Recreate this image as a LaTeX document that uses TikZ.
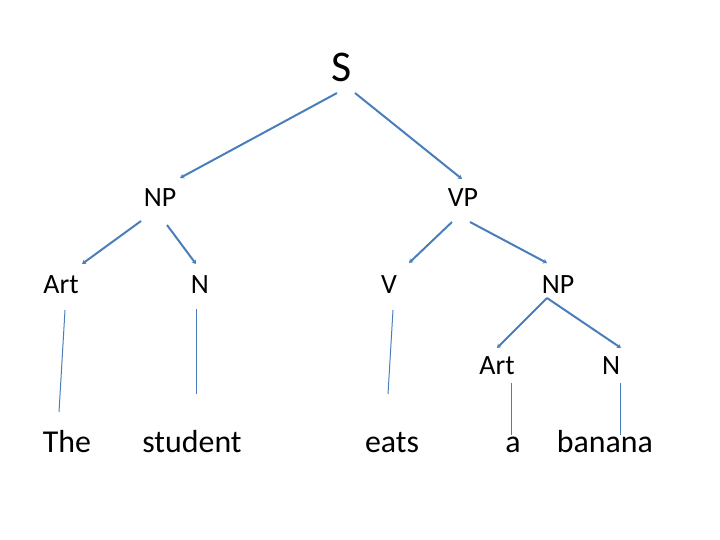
\documentclass[tikz,border=0pt]{standalone}
\usepackage{fontspec}
\setmainfont{Carlito}
\usetikzlibrary{calc,arrows.meta}
\definecolor{lineblue}{HTML}{4A7EBB}
\tikzset{
  cat/.style={anchor=base,inner sep=0pt,font=\fontsize{28}{30}\selectfont},
  top/.style={anchor=base,inner sep=0pt,font=\fontsize{44}{48}\selectfont},
  word/.style={anchor=base,inner sep=0pt,font=\fontsize{32}{36}\selectfont},
  branch/.style={draw=lineblue,line width=2pt,-{Stealth[length=4pt,width=5pt]}},
  leafline/.style={draw=lineblue,line width=1pt},
}
\begin{document}
\begin{tikzpicture}[x=1bp,y=-1bp]
\useasboundingbox (0,0) rectangle (720,540);
\node[top] (S) at (342,82) {S};
\node[cat] (NP1) at (160,207) {NP};
\node[cat] (VP) at (463,207) {VP};
\node[cat] (Art1) at (61,293) {Art};
\node[cat] (N1) at (200,293) {N};
\node[cat] (V) at (389,293) {V};
\node[cat] (NP2) at (558,293) {NP};
\node[cat] (Art2) at (497,374) {Art};
\node[cat] (N2) at (611,374) {N};
\node[word] (The) at (67,452) {The};
\node[word] (student) at (192,452) {student};
\node[word] (eats) at (392,452) {eats};
\node[word] (a) at (513,452) {a};
\node[word] (banana) at (605,452) {banana};
% branches with arrows
\draw[branch] ($(S.base)+(-5,11)$) -- ($(NP1.base)+(20,-29)$);
\draw[branch] ($(S.base)+(13,11)$) -- ($(VP.base)+(-1,-28)$);
\draw[branch] ($(NP1.base)+(-19,14)$) -- ($(Art1.base)+(21,-29)$);
\draw[branch] ($(NP1.base)+(7,18)$) -- ($(N1.base)+(-4,-29)$);
\draw[branch] ($(VP.base)+(-11,15)$) -- ($(V.base)+(20,-30)$);
\draw[branch] ($(VP.base)+(7,15)$) -- ($(NP2.base)+(-11,-30)$);
\draw[branch] ($(NP2.base)+(-11,5)$) -- ($(Art2.base)+(0,-26)$);
\draw[branch] ($(NP2.base)+(-11,5)$) -- ($(N2.base)+(10,-26)$);
% leaf lines
\draw[leafline] ($(Art1.base)+(4,17)$) -- ($(The.base)+(-8,-40)$);
\draw[leafline] ($(N1.base)+(-4,16)$) -- ($(student.base)+(4,-58)$);
\draw[leafline] ($(V.base)+(4,17)$) -- ($(eats.base)+(-4,-58)$);
\draw[leafline] ($(Art2.base)+(14,9)$) -- ($(a.base)+(-2,-17)$);
\draw[leafline] ($(N2.base)+(9,9)$) -- ($(banana.base)+(15,-17)$);
\end{tikzpicture}
\end{document}
